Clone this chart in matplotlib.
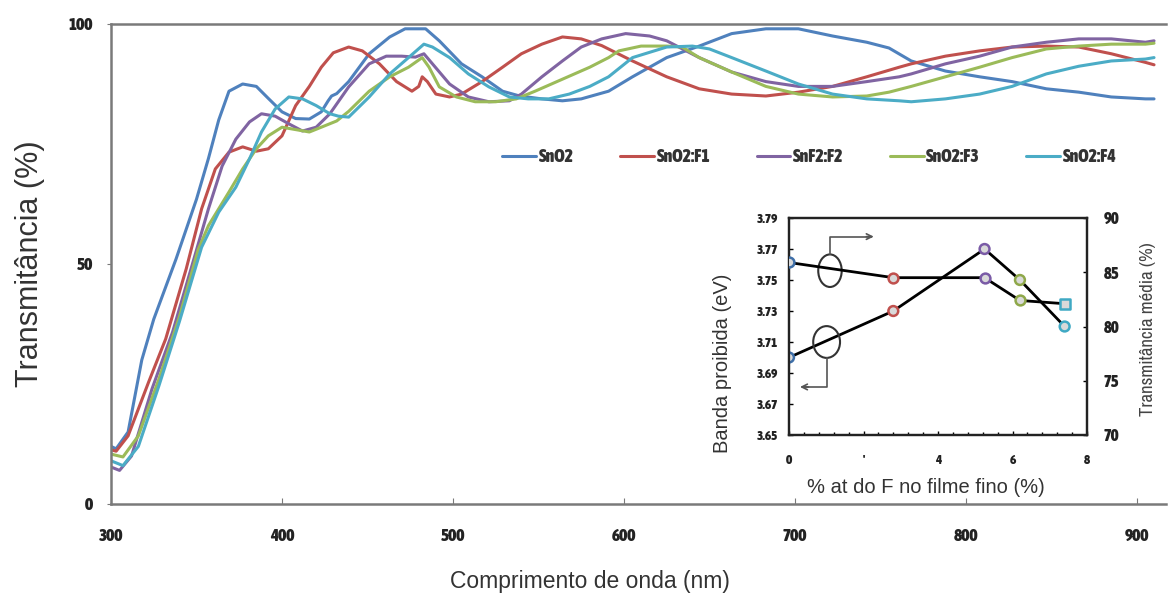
import matplotlib
matplotlib.use("Agg")
import matplotlib.pyplot as plt
from matplotlib.patches import Ellipse
from matplotlib import font_manager as fm

# ---------------- data ----------------
series_names = ["SnO2", "SnO2:F1", "SnF2:F2", "SnO2:F3", "SnO2:F4"]
series_colors = ["#4F81BD", "#C0504D", "#8064A2", "#9BBB59", "#4BACC6"]

wl_sno2 = [300, 303, 310, 318, 325, 338, 350, 357, 363, 369, 377, 385, 392, 400, 408, 416, 423, 427, 429, 432,
           439, 451, 463, 472, 484, 492, 505, 517, 529, 539, 552, 564, 575, 591, 605, 625, 644, 663, 683, 702,
           722, 742, 755, 768, 788, 808, 827, 847, 866, 885, 905, 910]
t_sno2 = [12, 11.5, 15, 30, 38.5, 51, 63.5, 72, 80, 86, 87.5, 87, 84.5, 81.7, 80.3, 80.2, 81.7, 84, 85, 85.5,
          88, 93.8, 97.3, 99, 99, 96.5, 91.7, 89, 86, 85, 84.4, 84, 84.4, 86, 89, 93, 95.4, 98, 99, 99,
          97.5, 96.2, 95, 92.3, 90.2, 89, 88, 86.5, 85.8, 84.8, 84.4, 84.4]

wl_f1 = [300, 303, 310, 322, 332, 344, 353, 361, 369, 377, 385, 392, 400, 408, 416, 423, 430, 439, 447, 457,
         467, 476, 480, 482, 485, 490, 498, 505, 517, 529, 540, 552, 564, 575, 587, 605, 625, 644, 663, 683,
         702, 722, 742, 761, 768, 788, 808, 827, 847, 866, 885, 905, 910]
t_f1 = [11.3, 11, 14.2, 25.4, 34.4, 49, 61.5, 69.8, 73.3, 74.4, 73.5, 74, 76.7, 83, 87, 91, 94, 95.2, 94.4, 91.7,
        88, 86, 87, 89, 88, 85.4, 84.8, 85.4, 88, 91, 93.8, 95.8, 97.3, 96.9, 95.5, 92.3, 89, 86.5, 85.4, 85,
        85.8, 87, 89, 91, 91.7, 93.3, 94.4, 95.2, 95.4, 95.2, 93.8, 92, 91.5]

wl_f2 = [300, 305, 312, 324, 336, 346, 357, 365, 373, 381, 388, 396, 404, 412, 420, 428, 439, 451, 461, 470,
         478, 483, 488, 498, 509, 521, 533, 540, 552, 564, 575, 587, 601, 615, 625, 644, 663, 683, 702, 722,
         742, 761, 768, 788, 808, 827, 847, 866, 885, 905, 910]
t_f2 = [7.7, 7, 10, 24, 35.8, 48, 61.5, 70.4, 76, 79.6, 81.3, 80.8, 79.2, 77.7, 78.5, 81.3, 86.9, 91.7, 93.3, 93.3,
        93.1, 93.8, 91.7, 87.5, 84.8, 83.8, 84, 85.4, 89, 92.3, 95.2, 96.9, 98, 97.5, 96.5, 93, 90, 88, 87, 87,
        88, 89, 89.6, 91.7, 93.3, 95.2, 96.2, 96.9, 96.9, 96.2, 96.5]

wl_f3 = [300, 307, 316, 328, 340, 351, 357, 369, 377, 385, 392, 400, 408, 416, 423, 432, 439, 451, 463, 474,
         482, 486, 492, 502, 513, 525, 537, 548, 564, 580, 591, 597, 610, 625, 634, 644, 663, 683, 702, 722,
         742, 755, 768, 788, 808, 827, 847, 866, 885, 905, 910]
t_f3 = [10.4, 9.8, 14.2, 26, 39, 53, 58, 65, 69.8, 74, 76.7, 78.5, 78, 77.5, 78.5, 79.8, 81.8, 86, 89, 91,
        93, 91, 86.9, 84.8, 83.8, 83.8, 84.4, 86, 88.5, 91, 93, 94.4, 95.4, 95.4, 95.2, 93, 90, 87, 85.4, 84.8,
        85, 85.8, 87, 89, 91, 93, 94.8, 95.4, 95.8, 95.8, 96]

wl_f4 = [300, 307, 316, 328, 340, 353, 363, 373, 381, 388, 396, 404, 412, 420, 428, 433, 439, 451, 463, 474,
         483, 488, 498, 509, 521, 533, 544, 556, 568, 580, 591, 605, 625, 640, 650, 663, 683, 702, 722, 742,
         761, 768, 788, 808, 827, 847, 866, 885, 905, 910]
t_f4 = [9, 8, 12, 24.6, 38, 53.5, 60.8, 66, 71.9, 77.5, 82.3, 84.8, 84.4, 83, 81.3, 80.8, 80.6, 84.8, 89.6, 93,
        95.8, 95.2, 93, 89.6, 86.9, 84.8, 84.4, 84.4, 85.4, 87, 89, 93, 95.2, 95.4, 94.8, 93, 90.2, 87.5, 85.4, 84.4,
        84, 83.8, 84.4, 85.4, 87, 89.6, 91.2, 92.3, 92.7, 93]

main_xticks = [300, 400, 500, 600, 700, 800, 900]
main_yticks = [0, 50, 100]

# inset data
f_content = [0, 2.8, 5.25, 6.2, 7.4]
band_gap = [3.70, 3.73, 3.77, 3.75, 3.72]
mean_trans = [85.9, 84.5, 84.5, 82.4, 82.1]
point_colors = ["#3F6FA8", "#C0504D", "#7A5BA6", "#8FA84A", "#3FA9C4"]
inset_xticks = [0, 2, 4, 6, 8]
inset_xticklabels = ["0", "'", "4", "6", "8"]
inset_lticks = [3.65, 3.67, 3.69, 3.71, 3.73, 3.75, 3.77, 3.79]
inset_rticks = [70, 75, 80, 85, 90]

# ---------------- fonts ----------------
narrow_all = [f for f in fm.fontManager.ttflist if ("Narrow" in f.name or "Condensed" in f.name)]
bold_narrow = [f for f in narrow_all if (isinstance(f.weight, int) and f.weight >= 600)
               or (isinstance(f.weight, str) and "bold" in f.weight.lower())]
bold_narrow = [f for f in bold_narrow if "italic" not in f.style.lower() and "oblique" not in f.style.lower()]
reg_narrow = [f for f in narrow_all if f not in bold_narrow and f.style == "normal"]

tick_fp_file = bold_narrow[0].fname if bold_narrow else None
narrow_name = reg_narrow[0].name if reg_narrow else "DejaVu Sans"
label_font = ["Liberation Sans", "DejaVu Sans"]


def tick_props(size):
    if tick_fp_file:
        return fm.FontProperties(fname=tick_fp_file, size=size)
    return fm.FontProperties(family="DejaVu Sans", weight="bold", size=size)


def style_ticklabels(labels, size):
    for lab in labels:
        lab.set_fontproperties(tick_props(size))
        lab.set_color("#222222")


fig = plt.figure(figsize=(11.69, 6.06), dpi=100)
W, H = 1169, 606

ax = fig.add_axes([111 / W, 1 - 504 / H, (1166 - 111) / W, 480 / H])
wls = [wl_sno2, wl_f1, wl_f2, wl_f3, wl_f4]
ts = [t_sno2, t_f1, t_f2, t_f3, t_f4]
for wl, t, name, c in zip(wls, ts, series_names, series_colors):
    ax.plot(wl, t, color=c, lw=2.2, label=name, solid_capstyle="round", solid_joinstyle="round")

ax.set_xlim(300, 917)
ax.set_ylim(0, 100)
ax.set_xticks(main_xticks)
ax.set_yticks(main_yticks)
for s in ["left", "bottom", "top"]:
    ax.spines[s].set_color("#7a7a7a")
    ax.spines[s].set_linewidth(1.8)
ax.spines["right"].set_visible(False)
ax.tick_params(axis="x", direction="in", length=4, color="#7a7a7a", pad=17)
ax.tick_params(axis="y", direction="out", length=3, color="#7a7a7a", pad=10)
style_ticklabels(ax.get_xticklabels() + ax.get_yticklabels(), 12.5)
ax.set_ylabel("Transmitância (%)", fontsize=22, family=label_font, color="#333333")
ax.yaxis.set_label_coords(-0.0626, 0.50)
ax.set_xlabel("Comprimento de onda (nm)", fontsize=16.5, family=label_font, color="#333333")
ax.xaxis.set_label_coords(0.454, -0.1375)

leg = ax.legend(ncol=5, frameon=False, loc="center", bbox_to_anchor=(0.662, 0.722),
                handlelength=1.9, handletextpad=0.15, columnspacing=2.6,
                prop=tick_props(12.8))
for txt in leg.get_texts():
    txt.set_color("#333333")

# ---------------- inset ----------------
ins = fig.add_axes([789 / W, 1 - 435 / H, 298 / W, 217 / H])
ins2 = ins.twinx()
ins.set_xlim(0, 8)
ins.set_ylim(3.65, 3.79)
ins2.set_ylim(70, 90)

ins.plot(f_content, band_gap, color="black", lw=2, zorder=3)
ins.scatter(f_content, band_gap, s=50, facecolor="#d9d9d9", edgecolor=point_colors, linewidths=1.8, zorder=4)
ins2.plot(f_content, mean_trans, color="black", lw=2, zorder=3)
mk = ["o", "o", "o", "o", "s"]
for xv, yv, c, m in zip(f_content, mean_trans, point_colors, mk):
    ins2.scatter([xv], [yv], s=50, marker=m, facecolor="#d9d9d9", edgecolor=c, linewidths=1.8, zorder=4)

ins.set_xticks(inset_xticks)
ins.set_xticklabels(inset_xticklabels)
ins.set_xticks([i * 0.4 for i in range(21)], minor=True)
ins.set_yticks(inset_lticks)
ins.set_yticklabels([f"{v:.2f}" for v in inset_lticks])
ins2.set_yticks(inset_rticks)
ins.tick_params(axis="y", which="both", direction="in", length=3, width=1, pad=8)
ins.tick_params(axis="x", which="both", direction="in", length=3, width=1, pad=14)
ins.tick_params(axis="x", which="minor", length=2)
ins2.tick_params(axis="y", direction="in", length=3, width=1, pad=12)
for a in (ins, ins2):
    for s in a.spines.values():
        s.set_linewidth(1.6)
        s.set_color("#222222")
style_ticklabels(ins.get_xticklabels() + ins.get_yticklabels(), 9.5)
style_ticklabels(ins2.get_yticklabels(), 12)
ins.set_ylabel("Banda proibida (eV)", fontsize=14.5, family=label_font, color="#333333")
ins.yaxis.set_label_coords(-0.19, 0.33)
ins2.set_ylabel("Transmitância média (%)", fontsize=13.5, family=[narrow_name, "DejaVu Sans"],
                color="#444444")
ins2.yaxis.set_label_coords(1.178, 0.49)
ins.set_xlabel("% at do F no filme fino (%)", fontsize=14.5, family=label_font, color="#333333")
ins.xaxis.set_label_coords(0.46, -0.20)

# annotations (ellipses + arrows)
ins.add_patch(Ellipse((1.1, 3.756), 0.63, 0.021, fill=False, lw=1.5, ec="#333333", zorder=5))
ins.add_patch(Ellipse((1.01, 3.710), 0.72, 0.0205, fill=False, lw=1.5, ec="#333333", zorder=5))
ins.plot([1.1, 1.1, 2.2], [3.7665, 3.778, 3.778], color="#555555", lw=1.2, zorder=5)
ins.annotate("", xy=(2.35, 3.778), xytext=(2.0, 3.778),
             arrowprops=dict(arrowstyle="->", color="#555555", lw=1.2), zorder=5)
ins.plot([1.01, 1.01, 0.4], [3.6997, 3.681, 3.681], color="#555555", lw=1.2, zorder=5)
ins.annotate("", xy=(0.22, 3.681), xytext=(0.6, 3.681),
             arrowprops=dict(arrowstyle="->", color="#555555", lw=1.2), zorder=5)

fig.savefig("out.png", dpi=100)
